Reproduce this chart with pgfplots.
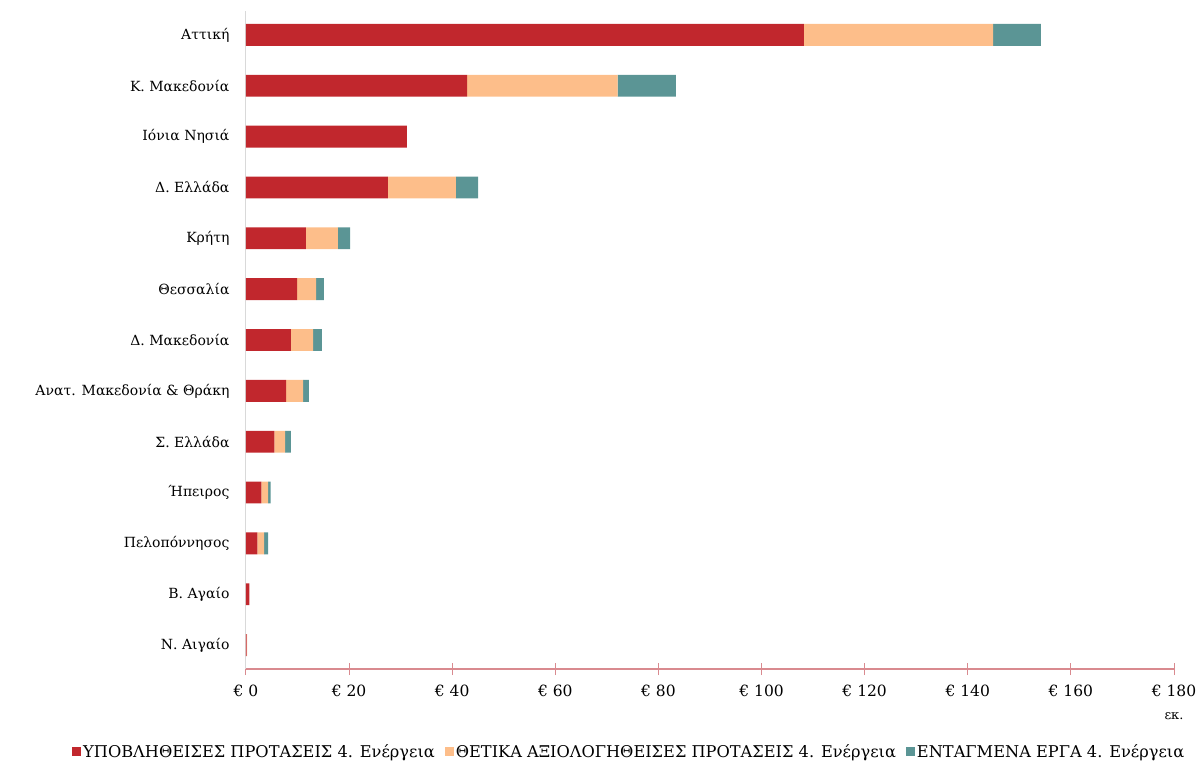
\documentclass[border=0pt]{standalone}
\usepackage{pgfplots}
\pgfplotsset{compat=1.18}
\usepackage{fontspec}
\setmainfont{DejaVu Serif}
\definecolor{cred}{HTML}{C1272D}
\definecolor{cpeach}{HTML}{FDBE8A}
\definecolor{cteal}{HTML}{5B9595}
\definecolor{caxis}{HTML}{D98A8F}
\definecolor{cgrey}{HTML}{D9D9D9}
\begin{document}
\begin{tikzpicture}
\useasboundingbox (-246pt,-103pt) rectangle (955pt,669pt);
\begin{axis}[
  scale only axis,
  clip=false,
  width=928pt, height=658pt,
  xbar stacked,
  bar width=0.43,
  y dir=reverse,
  xmin=0, xmax=180,
  ymin=-0.47, ymax=12.47,
  axis x line*=bottom,
  axis y line*=left,
  x axis line style={caxis, line width=1.2pt},
  y axis line style={cgrey, line width=1pt},
  xtick={0,20,...,180},
  xticklabels={€ 0,€ 20,€ 40,€ 60,€ 80,€ 100,€ 120,€ 140,€ 160,€ 180},
  xtick style={caxis, line width=1pt},
  major tick length=12pt,
  xtick align=center,
  ytick={0,...,12},
  yticklabels={Αττική,Κ. Μακεδονία,Ιόνια Νησιά,Δ. Ελλάδα,Κρήτη,Θεσσαλία,Δ. Μακεδονία,Ανατ. Μακεδονία \& Θράκη,Σ. Ελλάδα,Ήπειρος,Πελοπόννησος,Β. Αγαίο,Ν. Αιγαίο},
  ytick style={draw=none},
  yticklabel style={font=\fontsize{14}{16}\selectfont, xshift=-13pt},
  xticklabel style={font=\fontsize{15.5}{18}\selectfont, yshift=-6pt},
  legend style={at={(0.413,-0.126)}, anchor=center, draw=none, fill=none,
    legend columns=3, font=\fontsize{16.2}{19}\selectfont,
    /tikz/every even column/.append style={column sep=8pt}},
  legend image code/.code={\fill[#1] (0pt,-4.5pt) rectangle (9pt,4.5pt);},
]
\addplot[fill=cred, draw=none] coordinates {
(108.2,0) (42.9,1) (31.2,2) (27.5,3) (11.6,4) (9.9,5) (8.7,6) (7.8,7) (5.5,8) (3.0,9) (2.2,10) (0.65,11) (0.1,12)};
\addlegendentry{ΥΠΟΒΛΗΘΕΙΣΕΣ ΠΡΟΤΑΣΕΙΣ 4. Ενέργεια}
\addplot[fill=cpeach, draw=none] coordinates {
(36.7,0) (29.2,1) (0,2) (13.2,3) (6.2,4) (3.7,5) (4.3,6) (3.3,7) (2.1,8) (1.3,9) (1.3,10) (0,11) (0.1,12)};
\addlegendentry{ΘΕΤΙΚΑ ΑΞΙΟΛΟΓΗΘΕΙΣΕΣ ΠΡΟΤΑΣΕΙΣ 4. Ενέργεια}
\addplot[fill=cteal, draw=none] coordinates {
(9.3,0) (11.3,1) (0,2) (4.3,3) (2.4,4) (1.5,5) (1.7,6) (1.1,7) (1.1,8) (0.5,9) (0.8,10) (0,11) (0,12)};
\addlegendentry{ΕΝΤΑΓΜΕΝΑ ΕΡΓΑ 4. Ενέργεια}
\node[font=\fontsize{13}{15}\selectfont] at (rel axis cs:1,0) [yshift=-47pt] {εκ.};
\end{axis}
\end{tikzpicture}
\end{document}
